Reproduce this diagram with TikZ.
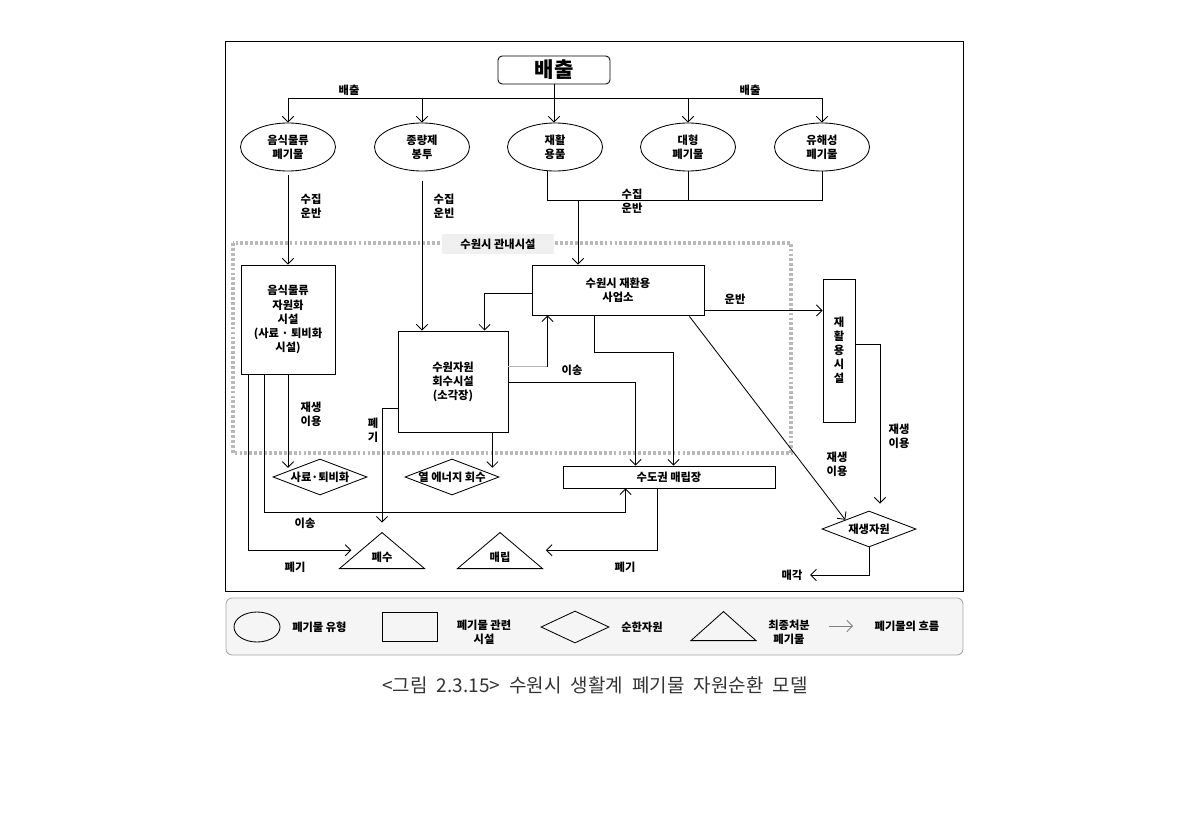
\documentclass[tikz,border=0pt]{standalone}
\usepackage{fontspec}
\setmainfont{Noto Sans CJK KR}
\usetikzlibrary{positioning,shapes.geometric,arrows.meta,calc}

\begin{document}
\begin{tikzpicture}[x=0.025cm, y=-0.025cm, line width=0.6pt,
every node/.style = {font=\fontsize{8}{10}\selectfont\bfseries, align=center, inner sep=1pt},
  kind/.style = {draw, ellipse, minimum width=2.375cm, minimum height=1.2cm, inner sep=0pt},
  plant/.style = {draw, rectangle, inner sep=0pt},
  reuse/.style = {draw, diamond, minimum width=2.35cm, minimum height=0.9cm, inner sep=0pt},
  disposal/.style = {draw, isosceles triangle, isosceles triangle stretches, shape border rotate=90,
    minimum width=2.125cm, minimum height=0.9cm, inner sep=0pt},
  flow/.style = {-{Straight Barb[length=4pt,width=8pt]}}
]
\useasboundingbox (0,0) rectangle (1190,828);
\draw (225,41) rectangle (963,591);

\node[draw, rounded corners=3pt, minimum width=2.8cm, minimum height=0.7cm,
  font=\fontsize{15}{18}\selectfont\bfseries] (baechul) at (554,70) {배출};
\node[kind] (foodwaste) at (288,147) {음식물류\\폐기물};
\node[kind] (bag) at (422,147) {종량제\\봉투};
\node[kind] (recyc) at (555,147) {재활\\용품};
\node[kind] (bulky) at (688,147) {대형\\폐기물};
\node[kind] (hazard) at (822,147) {유해성\\폐기물};

\coordinate (bar) at (554,98);
\draw[flow] (baechul.south) -- (baechul.south |- recyc.north);
\draw (bar -| foodwaste) -- (bar -| hazard);
\foreach \k in {foodwaste,bag,bulky,hazard}
  \draw[flow] (bar -| \k) -- (\k.north);
\node (emit1) at (349,90) {배출};
\node (emit2) at (750,90) {배출};

\draw[gray!55, line width=2.2pt, dash pattern=on 2pt off 1.5pt] (233,243) rectangle (791,453);
\node[fill=gray!12, minimum width=2.8cm, minimum height=0.5cm] (inside) at (498,244) {수원시 관내시설};

\node[plant, minimum width=2.35cm, minimum height=2.725cm] (foodfac) at (288,319.5)
  {음식물류\\자원화\\시설\\(사료 · 퇴비화\\시설)};
\node[plant, minimum width=2.75cm, minimum height=2.525cm] (incin) at (453,381.5)
  {수원자원\\회수시설\\(소각장)};
\node[plant, minimum width=4.3cm, minimum height=1.25cm] (recycenter) at (618,290)
  {수원시 재환용\\사업소};
\node[plant, minimum width=0.8cm, minimum height=3.575cm] (recyfac) at (839,350.5)
  {재\\활\\용\\시\\설};
\node[plant, minimum width=5.3cm, minimum height=0.55cm] (landfill) at (669,477) {수도권 매립장};

\node[reuse, label=center:{사료·퇴비화}] (feed) at (320,477) {};
\node[reuse, label=center:{열 에너지 회수}] (heat) at (452,477) {};
\node[reuse, label=center:{재생자원}] (resource) at (869,529) {};

\node[disposal, anchor=lower side] (wastewater) at (382,569) {};
\node (wastewatertxt) at (382,557) {폐수};
\node[disposal, anchor=lower side] (burial) at (500,569) {};
\node (burialtxt) at (500,557) {매립};

\draw[flow] ([yshift=-0.08cm]foodwaste.south) -- (foodfac.north);
\node (collect1) at (311,206) {수집\\운반};
\draw[flow] ([yshift=-0.25cm]bag.south) -- (bag.south |- incin.north);
\node (collect2) at (444,206) {수집\\운빈};
\coordinate (join) at (578,200);
\draw ([xshift=-0.18cm]recyc.south) |- (join -| hazard) -- (hazard.south);
\draw (bulky.south) -- (bulky.south |- join);
\draw[flow] (join) -- (join |- recycenter.north);
\node (collect3) at (632,201) {수집\\운반};

\draw[flow, shorten >=0.22cm] ($(foodfac.south west)+(8,0)$) |- (wastewater.left side);
\draw[flow] ($(foodfac.south west)+(24,0)$) -- ++(0,138) -| ($(landfill.south west)+(63,0)$);
\draw[flow] (foodfac.south) -- (foodfac.south |- feed.north west);
\node (reuse1) at (311,414) {재생\\이용};
\node (move1) at (305,523) {이송};
\node (discard1) at (295,567) {폐기};

\draw[flow, shorten >=0.22cm] ($(incin.north west)+(0,78)$) -| (wastewater.apex);
\node (discard2) at (373,430) {폐\\기};
\coordinate (h1) at ($(incin.south east)+(-16,0)$);
\draw[flow] (h1) -- (h1 |- heat.north east);
\coordinate (g1) at ($(incin.north east)+(0,36)$);
\coordinate (g2) at ($(recycenter.south west)+(16,0)$);
\draw[gray!60] (g1) -- (g1 -| g2);
\draw[flow] (g1 -| g2) -- (g2);
\draw[flow] ($(incin.north east)+(0,52)$) -| ($(landfill.north west)+(73,0)$);
\node (move2) at (572,370) {이송};

\draw[flow] ($(recycenter.north west)+(0,29)$) -| ($(incin.north west)+(87,0)$);
\draw[flow] ($(recycenter.south west)+(63,0)$) -- ++(0,37) -| ($(landfill.north west)+(111,0)$);
\coordinate (r1) at ($(recycenter.south east)+(0,-5)$);
\draw[flow] (r1) -- (r1 -| recyfac.west);
\node (haul) at (735,299) {운반};
\draw[flow] ($(recycenter.south east)+(-15,1)$) -- (resource.north west);
\node (reuse2) at (837,464) {재생\\이용};

\draw[flow] ($(recyfac.north east)+(0,66)$) -| ($(resource.north)+(11,-7)$);
\node (reuse3) at (899,436) {재생\\이용};

\draw[flow, shorten >=0.6cm] ($(landfill.south west)+(95,0)$) |- (burial.right side);
\node (discard3) at (625,567) {폐기};

\node (sell) at (792,575) {매각};
\draw[flow, shorten >=0.15cm] (resource.south) |- (sell.east);

\draw[gray!70, fill=gray!8, rounded corners=0.15cm] (226,598) rectangle (963,655);
\node[draw, ellipse, minimum width=1.15cm, minimum height=0.75cm, inner sep=0pt] (legkind) at (257,627) {};
\node[right=0.25cm of legkind] (legkindtxt) {폐기물 유형};
\node[plant, minimum width=1.375cm, minimum height=0.725cm] (legplant) at (409.5,626.5) {};
\node (legplanttxt) at (484,632) {폐기물 관련\\시설};
\node[draw, diamond, minimum width=1.7cm, minimum height=0.8cm, inner sep=0pt] (legreuse) at (575,627) {};
\node[right=0.25cm of legreuse] (legreusetxt) {순한자원};
\node[disposal, minimum width=1.625cm, minimum height=0.725cm, anchor=lower side] (legfinal) at (723.5,641) {};
\node (legfinaltxt) at (789,632) {최종처분\\폐기물};
\coordinate (legfrom) at (829,626);
\coordinate (legto) at (853,626);
\draw[flow, gray] (legfrom) -- (legto);
\node (legflowtxt) at (907,626) {폐기물의 흐름};

\node[font=\fontsize{13.5}{15}\selectfont, text=black!80] (caption) at (595,685)
  {\spaceskip=0.48em\relax <그림 2.3.15> 수원시 생활계 폐기물 자원순환 모델};
\end{tikzpicture}
\end{document}
